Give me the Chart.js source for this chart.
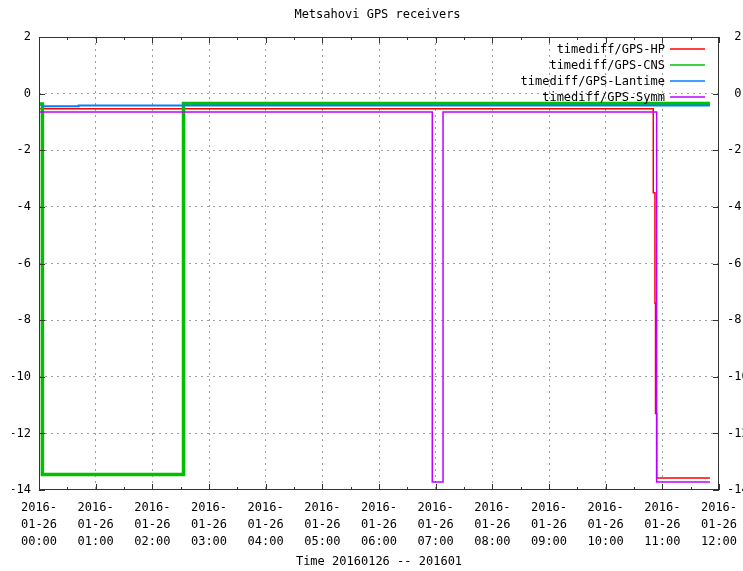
<!DOCTYPE html>
<html>
<head>
<meta charset="utf-8">
<script src="https://cdn.jsdelivr.net/npm/chart.js@4.4.1/dist/chart.umd.min.js"></script>
<style>
  html, body { margin: 0; padding: 0; background: #fff; }
  canvas { display: block; }
</style>
</head>
<body>
<canvas id="c" width="743" height="571"></canvas>
<script>
Chart.defaults.font.family = "DejaVu Sans Mono";
Chart.defaults.font.size = 12;
Chart.defaults.color = "#000";

// hours after 2016-01-26 00:00
const datePrefix = ["2016-", "01-26"];
const hourLabels = ["00:00", "01:00", "02:00", "03:00", "04:00", "05:00", "06:00",
                    "07:00", "08:00", "09:00", "10:00", "11:00", "12:00"];

const hpT  = [0.02, 10.84, 10.84, 10.87, 10.87, 10.88, 10.88, 10.90, 10.90, 11.84];
const hpV  = [-0.53, -0.53, -3.5, -3.5, -7.4, -7.4, -11.3, -11.3, -13.58, -13.58];

const cnsT = [0.0, 0.06, 0.06, 2.55, 2.55, 11.84];
const cnsV = [-0.37, -0.37, -13.45, -13.45, -0.35, -0.35];

const lanT = [0.05, 0.7, 0.7, 11.84];
const lanV = [-0.45, -0.45, -0.42, -0.42];

const symT = [0.0, 6.94, 6.94, 7.13, 7.13, 10.9, 10.9, 11.84];
const symV = [-0.65, -0.65, -13.72, -13.72, -0.65, -0.65, -13.72, -13.72];

const C = {
    red:     "#ff0000",
    green:   "#00c000",
    blue:    "#0080ff",
    magenta: "#c000ff",
    grid:    "#a0a0a0",
    frame:   "#333",
};

function pts(t, v) {
    return t.map((x, i) => ({ x, y: v[i] }));
}

function series(label, t, v, color, width, order) {
    return {
        label,
        data: pts(t, v),
        borderColor: color,
        backgroundColor: color,
        borderWidth: width,
        pointRadius: 0,
        tension: 0,
        fill: false,
        order,
    };
}

// gnuplot "% g": positive numbers get a leading space
const gnuNum = v => (v >= 0 ? " " : "") + v;

// gnuplot style: inward ticks on all sides, plus frame
const gnuFrame = {
    id: "gnuFrame",
    afterDraw(chart) {
        const { ctx, chartArea: a, scales: { x, y } } = chart;
        ctx.save();
        ctx.strokeStyle = C.frame;
        ctx.lineWidth = 1;
        ctx.beginPath();
        x.ticks.forEach((t, i) => {
            const px = Math.round(x.getPixelForValue(t.value)) + 0.5;
            ctx.moveTo(px, a.bottom); ctx.lineTo(px, a.bottom - 6);
            ctx.moveTo(px, a.top);    ctx.lineTo(px, a.top + 6);
            if (i < x.ticks.length - 1) {
                const mx = Math.round(x.getPixelForValue((t.value + x.ticks[i + 1].value) / 2)) + 0.5;
                ctx.moveTo(mx, a.bottom); ctx.lineTo(mx, a.bottom - 3);
                ctx.moveTo(mx, a.top);    ctx.lineTo(mx, a.top + 3);
            }
        });
        y.ticks.forEach(t => {
            const py = Math.round(y.getPixelForValue(t.value)) + 0.5;
            ctx.moveTo(a.left, py);  ctx.lineTo(a.left + 6, py);
            ctx.moveTo(a.right, py); ctx.lineTo(a.right - 6, py);
        });
        ctx.stroke();
        ctx.strokeRect(Math.round(a.left) + 0.5, Math.round(a.top) + 0.5,
                       Math.round(a.width) - 1, Math.round(a.height) - 1);
        ctx.restore();
    },
};

// key in the top right corner, text right aligned, sample on the right
const gnuKey = {
    id: "gnuKey",
    afterDraw(chart) {
        const { ctx, chartArea: a } = chart;
        ctx.save();
        ctx.font = "12px 'DejaVu Sans Mono'";
        ctx.textAlign = "right";
        ctx.textBaseline = "middle";
        chart.data.datasets.forEach((ds, i) => {
            const yy = a.top + 12 + i * 16;
            ctx.fillStyle = "#000";
            ctx.fillText(ds.label, a.right - 54, yy + 1);
            ctx.strokeStyle = ds.borderColor;
            ctx.lineWidth = 1.5;
            ctx.beginPath();
            ctx.moveTo(a.right - 49, yy);
            ctx.lineTo(a.right - 14, yy);
            ctx.stroke();
        });
        ctx.restore();
    },
};

new Chart(document.getElementById("c"), {
    type: "line",
    data: {
        datasets: [
            series("timediff/GPS-HP",      hpT,  hpV,  C.red,     1.5, 4),
            series("timediff/GPS-CNS",     cnsT, cnsV, C.green,   3.5, 3),
            series("timediff/GPS-Lantime", lanT, lanV, C.blue,    2,   2),
            series("timediff/GPS-Symm",    symT, symV, C.magenta, 1.5, 1),
        ],
    },
    options: {
        responsive: false,
        devicePixelRatio: 1,
        animation: false,
        layout: { padding: { left: 12, right: 0, top: 0, bottom: 0 } },
        plugins: {
            legend: { display: false },
            tooltip: { enabled: false },
            title: {
                display: true,
                text: "Metsahovi GPS receivers",
                color: "#000",
                font: { size: 12, weight: "normal" },
                padding: { top: 8, bottom: 14.6 },
            },
        },
        scales: {
            x: {
                type: "linear",
                min: 0,
                max: 12,
                afterFit: s => {
                    s.height = 81;
                    s.paddingLeft = 0;
                    s.paddingRight = 0;
                },
                ticks: {
                    stepSize: 1,
                    autoSkip: false,
                    maxRotation: 0,
                    padding: 9,
                    font: { size: 12, lineHeight: 1.42 },
                    callback: v => [...datePrefix, hourLabels[Math.round(v)]],
                },
                grid: {
                    drawTicks: false,
                    color: c => (c.tick.value === 0 || c.tick.value === 12) ? "transparent" : C.grid,
                },
                border: { display: false, dash: [2, 4] },
                title: {
                    display: true,
                    text: "Time 20160126 -- 201601",
                    color: "#000",
                    font: { size: 12 },
                    padding: { top: 2, bottom: 2 },
                },
            },
            y: {
                min: -14,
                max: 2,
                afterFit: s => { s.width = 27; },
                ticks: { stepSize: 2, padding: 8, callback: gnuNum },
                grid: {
                    drawTicks: false,
                    color: c => (c.tick.value === -14 || c.tick.value === 2) ? "transparent" : C.grid,
                },
                border: { display: false, dash: [2, 4] },
            },
            y2: {
                position: "right",
                min: -14,
                max: 2,
                afterFit: s => { s.width = 24; },
                ticks: { stepSize: 2, padding: 8, callback: gnuNum },
                grid: { drawTicks: false, drawOnChartArea: false },
                border: { display: false },
            },
        },
    },
    plugins: [gnuFrame, gnuKey],
});
</script>
</body>
</html>
